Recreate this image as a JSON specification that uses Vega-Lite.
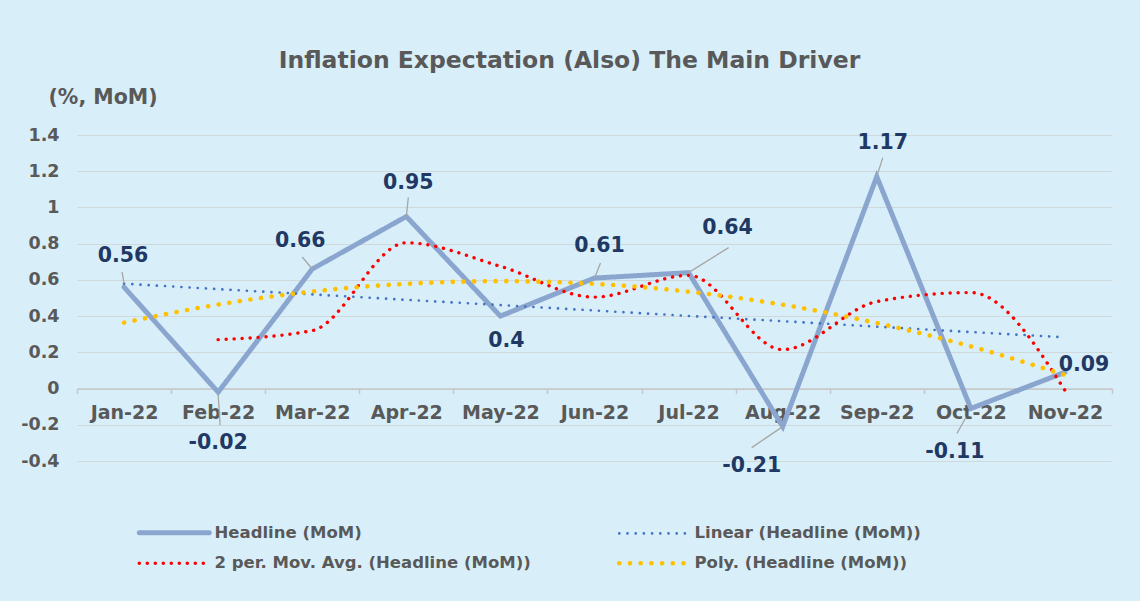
{
  "$schema": "https://vega.github.io/schema/vega-lite/v6.json",
  "width": 1035,
  "height": 326,
  "autosize": {"type": "none"},
  "padding": {"left": 77, "top": 135, "right": 28, "bottom": 140},
  "background": "#d8effa",
  "config": {
    "view": {"stroke": null},
    "font": "DejaVu Sans"
  },
  "title": {
    "text": "Inflation Expectation (Also) The Main Driver",
    "fontSize": 23.5,
    "fontWeight": "bold",
    "color": "#595959",
    "font": "DejaVu Sans",
    "anchor": "middle",
    "dx": -25,
    "offset": 15
  },
  "datasets": {
    "s": [
      {"month": "Jan-22", "series": "Headline (MoM)", "value": 0.56},
      {"month": "Feb-22", "series": "Headline (MoM)", "value": -0.02},
      {"month": "Mar-22", "series": "Headline (MoM)", "value": 0.66},
      {"month": "Apr-22", "series": "Headline (MoM)", "value": 0.95},
      {"month": "May-22", "series": "Headline (MoM)", "value": 0.4},
      {"month": "Jun-22", "series": "Headline (MoM)", "value": 0.61},
      {"month": "Jul-22", "series": "Headline (MoM)", "value": 0.64},
      {"month": "Aug-22", "series": "Headline (MoM)", "value": -0.21},
      {"month": "Sep-22", "series": "Headline (MoM)", "value": 1.17},
      {"month": "Oct-22", "series": "Headline (MoM)", "value": -0.11},
      {"month": "Nov-22", "series": "Headline (MoM)", "value": 0.09},
      {"month": "Jan-22", "series": "Linear (Headline (MoM))", "value": 0.579},
      {"month": "Feb-22", "series": "Linear (Headline (MoM))", "value": 0.549},
      {"month": "Mar-22", "series": "Linear (Headline (MoM))", "value": 0.52},
      {"month": "Apr-22", "series": "Linear (Headline (MoM))", "value": 0.49},
      {"month": "May-22", "series": "Linear (Headline (MoM))", "value": 0.461},
      {"month": "Jun-22", "series": "Linear (Headline (MoM))", "value": 0.431},
      {"month": "Jul-22", "series": "Linear (Headline (MoM))", "value": 0.401},
      {"month": "Aug-22", "series": "Linear (Headline (MoM))", "value": 0.372},
      {"month": "Sep-22", "series": "Linear (Headline (MoM))", "value": 0.342},
      {"month": "Oct-22", "series": "Linear (Headline (MoM))", "value": 0.312},
      {"month": "Nov-22", "series": "Linear (Headline (MoM))", "value": 0.283},
      {"month": "Feb-22", "series": "2 per. Mov. Avg. (Headline (MoM))", "value": 0.27},
      {"month": "Mar-22", "series": "2 per. Mov. Avg. (Headline (MoM))", "value": 0.32},
      {"month": "Apr-22", "series": "2 per. Mov. Avg. (Headline (MoM))", "value": 0.805},
      {"month": "May-22", "series": "2 per. Mov. Avg. (Headline (MoM))", "value": 0.675},
      {"month": "Jun-22", "series": "2 per. Mov. Avg. (Headline (MoM))", "value": 0.505},
      {"month": "Jul-22", "series": "2 per. Mov. Avg. (Headline (MoM))", "value": 0.625},
      {"month": "Aug-22", "series": "2 per. Mov. Avg. (Headline (MoM))", "value": 0.215},
      {"month": "Sep-22", "series": "2 per. Mov. Avg. (Headline (MoM))", "value": 0.48},
      {"month": "Oct-22", "series": "2 per. Mov. Avg. (Headline (MoM))", "value": 0.53},
      {"month": "Nov-22", "series": "2 per. Mov. Avg. (Headline (MoM))", "value": -0.01},
      {"month": "Jan-22", "series": "Poly. (Headline (MoM))", "value": 0.364},
      {"month": "Feb-22", "series": "Poly. (Headline (MoM))", "value": 0.464},
      {"month": "Mar-22", "series": "Poly. (Headline (MoM))", "value": 0.536},
      {"month": "Apr-22", "series": "Poly. (Headline (MoM))", "value": 0.578},
      {"month": "May-22", "series": "Poly. (Headline (MoM))", "value": 0.593},
      {"month": "Jun-22", "series": "Poly. (Headline (MoM))", "value": 0.578},
      {"month": "Jul-22", "series": "Poly. (Headline (MoM))", "value": 0.535},
      {"month": "Aug-22", "series": "Poly. (Headline (MoM))", "value": 0.463},
      {"month": "Sep-22", "series": "Poly. (Headline (MoM))", "value": 0.362},
      {"month": "Oct-22", "series": "Poly. (Headline (MoM))", "value": 0.233},
      {"month": "Nov-22", "series": "Poly. (Headline (MoM))", "value": 0.075}
    ]
  },
  "data": {"name": "s"},
  "encoding": {
    "x": {
      "field": "month",
      "type": "ordinal",
      "bandPosition": 0.5,
      "sort": ["Jan-22", "Feb-22", "Mar-22", "Apr-22", "May-22", "Jun-22", "Jul-22", "Aug-22", "Sep-22", "Oct-22", "Nov-22"],
      "scale": {"type": "band", "paddingInner": 0, "paddingOuter": 0},
      "axis": {
        "title": null,
        "orient": "bottom",
        "offset": -72.4,
        "grid": false,
        "domainColor": "#c6c6c6",
        "domainWidth": 1.5,
        "tickColor": "#c6c6c6",
        "tickWidth": 1.5,
        "tickSize": 5,
        "tickBand": "extent",
        "labelAngle": 0,
        "labelFont": "DejaVu Sans",
        "labelFontSize": 19,
        "labelFontWeight": "bold",
        "labelColor": "#595959",
        "labelBaseline": "middle",
        "labelPadding": 19
      }
    },
    "y": {
      "field": "value",
      "type": "quantitative",
      "scale": {"domain": [-0.4, 1.4], "nice": false, "zero": false},
      "axis": {
        "values": [-0.4, -0.2, 0, 0.2, 0.4, 0.6, 0.8, 1, 1.2, 1.4],
        "labelExpr": "'' + datum.value",
        "title": "(%, MoM)",
        "titleAngle": 0,
        "titleAlign": "left",
        "titleBaseline": "middle",
        "titleX": -29,
        "titleY": -38,
        "titleFont": "DejaVu Sans",
        "titleFontSize": 20.5,
        "titleFontWeight": "bold",
        "titleColor": "#595959",
        "domain": false,
        "ticks": false,
        "labelPadding": 18,
        "labelFont": "DejaVu Sans",
        "labelFontSize": 17.5,
        "labelFontWeight": "bold",
        "labelColor": "#595959",
        "gridColor": "#d0d8dc",
        "gridWidth": 1
      }
    }
  },
  "layer": [
    {
      "transform": [{"filter": "datum.series == 'Headline (MoM)'"}],
      "mark": {"type": "line", "strokeCap": "round", "strokeJoin": "miter", "strokeWidth": 5},
      "encoding": {
        "color": {"field": "series", "type": "nominal",
          "scale": {"domain": ["Headline (MoM)", "Linear (Headline (MoM))", "2 per. Mov. Avg. (Headline (MoM))", "Poly. (Headline (MoM))"], "range": ["#8aa6cf", "#4472c4", "#ff0000", "#ffc000"]},
          "legend": {
            "title": null, "orient": "none", "legendX": 64, "legendY": 389, "columns": 2, "direction": "horizontal",
            "symbolType": "M-1,0H6", "symbolSize": 400, "labelOffset": 57, "rowPadding": 11, "columnPadding": 79, "labelLimit": 0,
            "labelFont": "DejaVu Sans", "labelFontSize": 16.5, "labelFontWeight": "bold", "labelColor": "#595959",
            "encode": {"symbols": {"update": {
              "strokeCap": {"value": "round"},
              "strokeWidth": {"signal": "datum.value === 'Headline (MoM)' ? 5 : datum.value === 'Linear (Headline (MoM))' ? 2.6 : datum.value === 'Poly. (Headline (MoM))' ? 4.6 : 3.4"}
            }}}
          }},
        "strokeDash": {"field": "series", "type": "nominal",
          "scale": {"domain": ["Headline (MoM)", "Linear (Headline (MoM))", "2 per. Mov. Avg. (Headline (MoM))", "Poly. (Headline (MoM))"], "range": [[1, 0], [0.1, 8.1], [0.1, 7.9], [0.1, 10.6]]}}
      }
    },
    {
      "transform": [{"filter": "datum.series == 'Linear (Headline (MoM))'"}],
      "mark": {"type": "line", "strokeCap": "round", "strokeWidth": 2.6},
      "encoding": {
        "color": {"field": "series", "type": "nominal"},
        "strokeDash": {"field": "series", "type": "nominal"}
      }
    },
    {
      "transform": [{"filter": "datum.series == '2 per. Mov. Avg. (Headline (MoM))'"}],
      "mark": {"type": "line", "strokeCap": "round", "interpolate": "monotone", "strokeWidth": 3.4},
      "encoding": {
        "color": {"field": "series", "type": "nominal"},
        "strokeDash": {"field": "series", "type": "nominal"}
      }
    },
    {
      "transform": [{"filter": "datum.series == 'Poly. (Headline (MoM))'"}],
      "mark": {"type": "line", "strokeCap": "round", "interpolate": "monotone", "strokeWidth": 4.6},
      "encoding": {
        "color": {"field": "series", "type": "nominal"},
        "strokeDash": {"field": "series", "type": "nominal"}
      }
    },
    {
      "transform": [{"filter": "datum.series == 'Headline (MoM)' && datum.month == 'Jan-22'"}],
      "layer": [
        {"mark": {"type": "rule", "color": "#a6a6a6", "strokeWidth": 1.3, "yOffset": -4, "x2Offset": -2, "y2Offset": -15},
         "encoding": {"x2": {"field": "month", "bandPosition": 0.5}, "y2": {"field": "value"}}},
        {"mark": {"type": "text", "dx": -1, "dy": -31, "fontSize": 20.5, "fontWeight": "bold", "color": "#1f3864", "font": "DejaVu Sans"},
         "encoding": {"text": {"field": "value", "type": "nominal"}}}
      ]
    },
    {
      "transform": [{"filter": "datum.series == 'Headline (MoM)' && datum.month == 'Feb-22'"}],
      "layer": [
        {"mark": {"type": "rule", "color": "#a6a6a6", "strokeWidth": 1.3, "yOffset": 2, "x2Offset": 2, "y2Offset": 33},
         "encoding": {"x2": {"field": "month", "bandPosition": 0.5}, "y2": {"field": "value"}}},
        {"mark": {"type": "text", "dx": 0, "dy": 51, "fontSize": 20.5, "fontWeight": "bold", "color": "#1f3864", "font": "DejaVu Sans"},
         "encoding": {"text": {"field": "value", "type": "nominal"}}}
      ]
    },
    {
      "transform": [{"filter": "datum.series == 'Headline (MoM)' && datum.month == 'Mar-22'"}],
      "layer": [
        {"mark": {"type": "rule", "color": "#a6a6a6", "strokeWidth": 1.3, "x2Offset": -10, "y2Offset": -12},
         "encoding": {"x2": {"field": "month", "bandPosition": 0.5}, "y2": {"field": "value"}}},
        {"mark": {"type": "text", "dx": -12, "dy": -28, "fontSize": 20.5, "fontWeight": "bold", "color": "#1f3864", "font": "DejaVu Sans"},
         "encoding": {"text": {"field": "value", "type": "nominal"}}}
      ]
    },
    {
      "transform": [{"filter": "datum.series == 'Headline (MoM)' && datum.month == 'Apr-22'"}],
      "layer": [
        {"mark": {"type": "rule", "color": "#a6a6a6", "strokeWidth": 1.3, "x2Offset": 2, "y2Offset": -19},
         "encoding": {"x2": {"field": "month", "bandPosition": 0.5}, "y2": {"field": "value"}}},
        {"mark": {"type": "text", "dx": 2, "dy": -34, "fontSize": 20.5, "fontWeight": "bold", "color": "#1f3864", "font": "DejaVu Sans"},
         "encoding": {"text": {"field": "value", "type": "nominal"}}}
      ]
    },
    {
      "transform": [{"filter": "datum.series == 'Headline (MoM)' && datum.month == 'May-22'"}],
      "mark": {"type": "text", "dx": 6, "dy": 25, "fontSize": 20.5, "fontWeight": "bold", "color": "#1f3864", "font": "DejaVu Sans"},
      "encoding": {"text": {"field": "value", "type": "nominal"}}
    },
    {
      "transform": [{"filter": "datum.series == 'Headline (MoM)' && datum.month == 'Jun-22'"}],
      "layer": [
        {"mark": {"type": "rule", "color": "#a6a6a6", "strokeWidth": 1.3, "x2Offset": 6, "y2Offset": -15},
         "encoding": {"x2": {"field": "month", "bandPosition": 0.5}, "y2": {"field": "value"}}},
        {"mark": {"type": "text", "dx": 5, "dy": -32, "fontSize": 20.5, "fontWeight": "bold", "color": "#1f3864", "font": "DejaVu Sans"},
         "encoding": {"text": {"field": "value", "type": "nominal"}}}
      ]
    },
    {
      "transform": [{"filter": "datum.series == 'Headline (MoM)' && datum.month == 'Jul-22'"}],
      "layer": [
        {"mark": {"type": "rule", "color": "#a6a6a6", "strokeWidth": 1.3, "x2Offset": 40, "y2Offset": -25},
         "encoding": {"x2": {"field": "month", "bandPosition": 0.5}, "y2": {"field": "value"}}},
        {"mark": {"type": "text", "dx": 39, "dy": -45, "fontSize": 20.5, "fontWeight": "bold", "color": "#1f3864", "font": "DejaVu Sans"},
         "encoding": {"text": {"field": "value", "type": "nominal"}}}
      ]
    },
    {
      "transform": [{"filter": "datum.series == 'Headline (MoM)' && datum.month == 'Aug-22'"}],
      "layer": [
        {"mark": {"type": "rule", "color": "#a6a6a6", "strokeWidth": 1.3, "x2Offset": -31, "y2Offset": 21},
         "encoding": {"x2": {"field": "month", "bandPosition": 0.5}, "y2": {"field": "value"}}},
        {"mark": {"type": "text", "dx": -31, "dy": 39, "fontSize": 20.5, "fontWeight": "bold", "color": "#1f3864", "font": "DejaVu Sans"},
         "encoding": {"text": {"field": "value", "type": "nominal"}}}
      ]
    },
    {
      "transform": [{"filter": "datum.series == 'Headline (MoM)' && datum.month == 'Sep-22'"}],
      "layer": [
        {"mark": {"type": "rule", "color": "#a6a6a6", "strokeWidth": 1.3, "x2Offset": 6, "y2Offset": -19},
         "encoding": {"x2": {"field": "month", "bandPosition": 0.5}, "y2": {"field": "value"}}},
        {"mark": {"type": "text", "dx": 6, "dy": -34, "fontSize": 20.5, "fontWeight": "bold", "color": "#1f3864", "font": "DejaVu Sans"},
         "encoding": {"text": {"field": "value", "type": "nominal"}}}
      ]
    },
    {
      "transform": [{"filter": "datum.series == 'Headline (MoM)' && datum.month == 'Oct-22'"}],
      "layer": [
        {"mark": {"type": "rule", "color": "#a6a6a6", "strokeWidth": 1.3, "xOffset": -5, "yOffset": 9, "x2Offset": -14, "y2Offset": 25},
         "encoding": {"x2": {"field": "month", "bandPosition": 0.5}, "y2": {"field": "value"}}},
        {"mark": {"type": "text", "dx": -16, "dy": 44, "fontSize": 20.5, "fontWeight": "bold", "color": "#1f3864", "font": "DejaVu Sans"},
         "encoding": {"text": {"field": "value", "type": "nominal"}}}
      ]
    },
    {
      "transform": [{"filter": "datum.series == 'Headline (MoM)' && datum.month == 'Nov-22'"}],
      "mark": {"type": "text", "dx": 19, "dy": -7, "fontSize": 20.5, "fontWeight": "bold", "color": "#1f3864", "font": "DejaVu Sans"},
      "encoding": {"text": {"field": "value", "type": "nominal"}}
    }
  ]
}
